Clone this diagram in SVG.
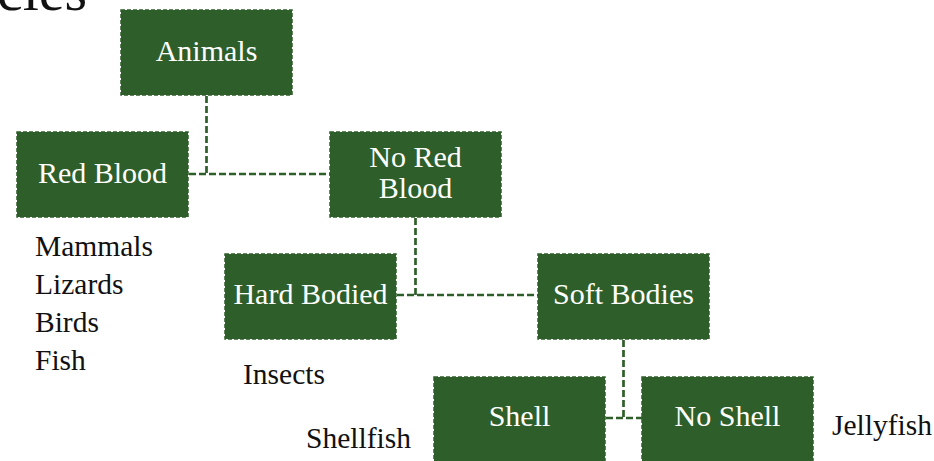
<svg xmlns="http://www.w3.org/2000/svg" width="934" height="461" viewBox="0 0 934 461">
<style>
.box{fill:#2e5f2a;stroke:#2e5f2a;stroke-width:1.5;stroke-dasharray:4 2}
.bt{font-family:"Liberation Serif","DejaVu Serif",serif;font-size:30px;fill:#ffffff;text-anchor:middle}
.lt{font-family:"Liberation Serif","DejaVu Serif",serif;font-size:29.5px;fill:#111111}
.conn{fill:none;stroke:#2e5f2a;stroke-width:2.7;stroke-dasharray:7 3}
</style>
<rect width="934" height="461" fill="#ffffff"/>
<text x="-3" y="10" style="font-family:'Liberation Serif','DejaVu Serif',serif;font-size:58px;fill:#111">cies</text>
<g id="connectors">
<path class="conn" d="M206.5 96 V174 M189 174 H330"/>
<path class="conn" d="M415.5 218 V295 M397 295 H538"/>
<path class="conn" d="M623.5 340 V418 M606 418 H642"/>
</g>
<g id="animals"><rect class="box" x="121" y="10" width="171" height="85"/><text class="bt" x="206.5" y="61">Animals</text></g>
<g id="red-blood"><rect class="box" x="17" y="132" width="171" height="85"/><text class="bt" x="102.5" y="183">Red Blood</text></g>
<g id="no-red-blood"><rect class="box" x="330" y="132" width="171" height="85"/><text class="bt" x="415.5" y="167">No Red</text><text class="bt" x="415.5" y="198">Blood</text></g>
<g id="hard-bodied"><rect class="box" x="225" y="254" width="171" height="85"/><text class="bt" x="310.5" y="304">Hard Bodied</text></g>
<g id="soft-bodies"><rect class="box" x="538" y="254" width="171" height="85"/><text class="bt" x="623.5" y="304">Soft Bodies</text></g>
<g id="shell"><rect class="box" x="434" y="377" width="171" height="86"/><text class="bt" x="519.5" y="426">Shell</text></g>
<g id="no-shell"><rect class="box" x="642" y="377" width="171" height="86"/><text class="bt" x="727.5" y="426">No Shell</text></g>
<g id="labels">
<text class="lt" x="35" y="256">Mammals</text>
<text class="lt" x="35" y="294">Lizards</text>
<text class="lt" x="35" y="332">Birds</text>
<text class="lt" x="35" y="370">Fish</text>
<text class="lt" x="243" y="384">Insects</text>
<text class="lt" x="306" y="448">Shellfish</text>
<text class="lt" x="832" y="435">Jellyfish</text>
</g>
</svg>
